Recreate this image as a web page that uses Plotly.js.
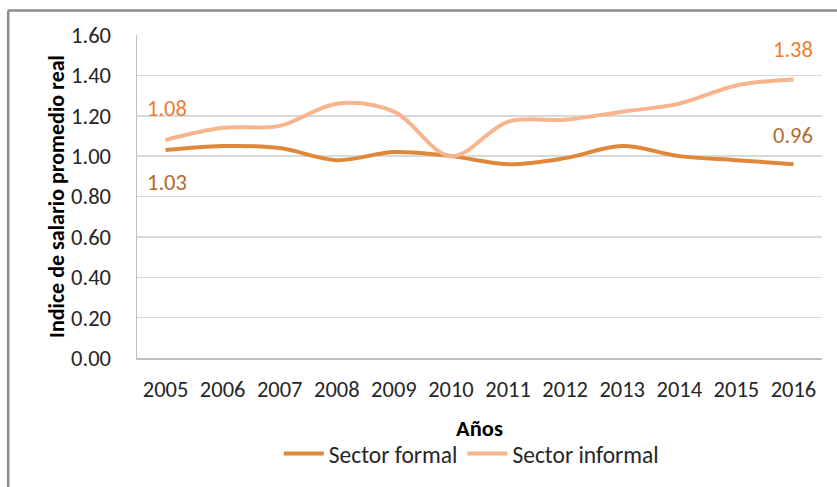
<!DOCTYPE html>
<html>
<head>
<meta charset="utf-8">
<script src="https://cdn.plot.ly/plotly-3.0.1.min.js"></script>
<style>
html,body{margin:0;padding:0;background:#fff;}
#chart{width:837px;height:487px;}
</style>
</head>
<body>
<div id="chart"></div>
<script>
const years = ['2005','2006','2007','2008','2009','2010','2011','2012','2013','2014','2015','2016'];
const formal = [1.03, 1.05, 1.04, 0.98, 1.02, 1.00, 0.96, 0.99, 1.05, 1.00, 0.98, 0.96];
const informal = [1.08, 1.14, 1.15, 1.26, 1.22, 1.00, 1.17, 1.18, 1.22, 1.26, 1.35, 1.38];
const yTicks = [0, 0.2, 0.4, 0.6, 0.8, 1.0, 1.2, 1.4, 1.6];
const yTickText = ['0.00','0.20','0.40','0.60','0.80','1.00','1.20','1.40','1.60'];
const names = ['Sector formal', 'Sector informal'];

const FONT = 'Carlito, Lato, "Open Sans", sans-serif';
const FS = 22.5;
const last = years.length - 1;

const traces = [
  {x: years, y: formal, name: names[0], type: 'scatter', mode: 'lines',
   line: {color: '#E0873A', width: 4, shape: 'spline', smoothing: 1}},
  {x: years, y: informal, name: names[1], type: 'scatter', mode: 'lines',
   line: {color: '#F6B58D', width: 4, shape: 'spline', smoothing: 1}}
];

const layout = {
  width: 837, height: 487,
  margin: {l: 137, r: 15, t: 35, b: 124},
  paper_bgcolor: '#fff', plot_bgcolor: '#fff',
  font: {family: FONT, size: FS, color: '#262626'},
  showlegend: true,
  legend: {orientation: 'h', x: 0.488, xanchor: 'center', y: -0.296, yanchor: 'middle',
           font: {family: FONT, size: 23.5, color: '#262626'}, traceorder: 'normal',
           itemwidth: 40},
  xaxis: {type: 'category', range: [-0.5, years.length - 0.5], showgrid: false, showline: true,
          linecolor: '#BFBFBF', linewidth: 1.5, automargin: false,
          ticks: '', ticklabelstandoff: 10, tickfont: {family: FONT, size: FS, color: '#262626'},
          title: {text: '<b>Años</b>', font: {family: FONT, size: FS, color: '#000'}, standoff: 18},
          fixedrange: true},
  yaxis: {range: [0, 1.6], tickvals: yTicks, ticktext: yTickText, showgrid: true, gridcolor: '#D9D9D9',
          gridwidth: 1.5, showline: true, linecolor: '#BFBFBF', linewidth: 1.5, zeroline: false, ticks: '',
          ticklabelstandoff: 20, automargin: false,
          tickfont: {family: FONT, size: FS, color: '#262626'},
          title: {text: '<b>Indice de salario promedio real</b>', font: {family: FONT, size: 22, color: '#000'}, standoff: 0},
          fixedrange: true},
  annotations: [
    {x: 0, y: informal[0], xref: 'x', yref: 'y', text: informal[0].toFixed(2), showarrow: false,
     yshift: 31, xshift: 1, font: {family: FONT, size: FS, color: '#ED7D31'}},
    {x: 0, y: formal[0], xref: 'x', yref: 'y', text: formal[0].toFixed(2), showarrow: false,
     yshift: -32, xshift: 1, font: {family: FONT, size: FS, color: '#B8692C'}},
    {x: last, y: informal[last], xref: 'x', yref: 'y', text: informal[last].toFixed(2), showarrow: false,
     yshift: 30, xshift: 0, font: {family: FONT, size: FS, color: '#ED7D31'}},
    {x: last, y: formal[last], xref: 'x', yref: 'y', text: formal[last].toFixed(2), showarrow: false,
     yshift: 29, xshift: 0, font: {family: FONT, size: FS, color: '#B8692C'}}
  ],
  shapes: [
    {type: 'line', xref: 'paper', yref: 'paper', x0: -0.188, x1: -0.188, y0: 1.076, y1: -0.4,
     line: {color: '#8C8C8C', width: 2.5}},
    {type: 'line', xref: 'paper', yref: 'paper', x0: -0.188, x1: 1.03, y0: 1.076, y1: 1.076,
     line: {color: '#8C8C8C', width: 2.5}}
  ]
};

Plotly.newPlot('chart', traces, layout, {displayModeBar: false, staticPlot: true});
</script>
</body>
</html>
